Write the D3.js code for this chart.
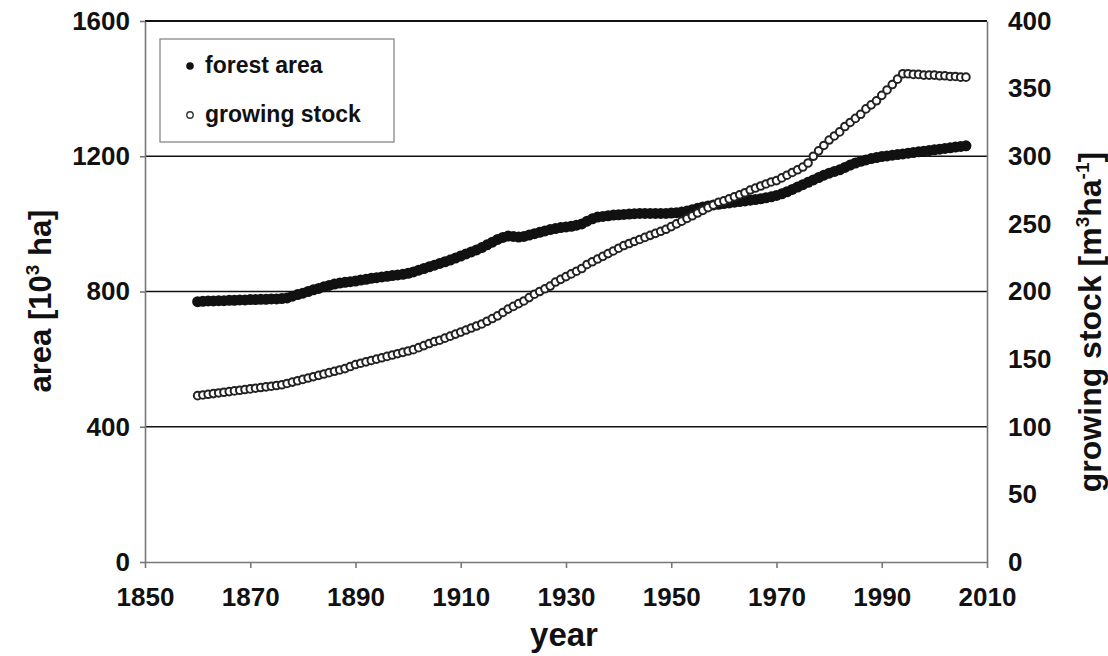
<!DOCTYPE html>
<html>
<head>
<meta charset="utf-8">
<script src="https://cdn.jsdelivr.net/npm/d3@7"></script>
<style>
  html, body { margin: 0; padding: 0; background: #fff; }
  svg { display: block; font-family: "Liberation Sans", Arial, sans-serif; font-weight: bold; }
</style>
</head>
<body>
<svg id="chart" width="1108" height="656"></svg>
<script>
// yearly values, 1860 - 2006
const years = d3.range(1860, 2007);

// forest area [10^3 ha]
const forestArea = [
  770, 771, 772, 772, 773, 773, 774, 774, 775, 775,
  776, 776, 777, 777, 778, 778, 779, 781, 786, 791,
  795, 800, 805, 809, 814, 818, 822, 825, 827, 829,
  831, 834, 836, 839, 841, 843, 845, 847, 849, 851,
  854, 858, 863, 868, 873, 878, 883, 888, 893, 899,
  905, 911, 917, 923, 930, 938, 946, 954, 960, 964,
  963, 961, 963, 967, 971, 975, 979, 983, 986, 989,
  991, 993, 996, 1000, 1008, 1015, 1020, 1022, 1024, 1026,
  1027, 1028, 1029, 1030, 1031, 1031, 1031, 1031, 1031, 1031,
  1032, 1033, 1035, 1038, 1042, 1046, 1050, 1053, 1056, 1058,
  1060, 1062, 1064, 1066, 1068, 1070, 1072, 1074, 1077, 1080,
  1084, 1089, 1095, 1102, 1109, 1116, 1123, 1130, 1137, 1144,
  1150, 1155, 1160, 1167, 1174, 1180, 1185, 1189, 1193, 1196,
  1199, 1201, 1203, 1205, 1207, 1209, 1211, 1213, 1215, 1217,
  1219, 1221, 1223, 1225, 1227, 1229, 1231
];

// growing stock [m3/ha]
const growingStock = [
  123, 123.5, 124, 124.5, 125, 125.5, 126, 126.5, 127, 127.5,
  128, 128.5, 129, 129.5, 130, 130.5, 131, 132, 133, 134,
  135, 136, 137, 138, 139, 140, 141, 142, 143, 144.5,
  146, 147, 148, 149, 150, 151, 152, 153, 154, 155,
  156, 157, 158.5, 160, 161.5, 163, 164, 165.5, 167, 168.5,
  170, 171.5, 173, 174.5, 176, 178, 180, 182, 184.5, 187,
  189, 191, 193, 195.5, 198, 200, 202, 204, 207, 209,
  211, 213, 215, 217, 220, 222, 224, 226, 228, 230,
  232, 234, 235.5, 237, 238.5, 240, 241.5, 243, 244.5, 246,
  248, 250, 252, 254, 256, 258, 260, 262, 264, 266,
  267, 268.5, 270, 271.5, 273, 275, 276.5, 278, 279.5, 281,
  282, 284, 286, 288, 290, 292, 295, 300, 304, 308,
  312, 315, 318, 322, 325, 328, 331, 335, 338, 341,
  345, 349, 353, 357, 361, 361, 360.5, 360.5, 360, 360,
  360, 359.5, 359.5, 359, 359, 358.5, 358.5
];

const xTicks = [1850, 1870, 1890, 1910, 1930, 1950, 1970, 1990, 2010];
const areaTicks = [0, 400, 800, 1200, 1600];
const stockTicks = [0, 50, 100, 150, 200, 250, 300, 350, 400];
const gridValues = [400, 800, 1200];

const plot = { left: 145, right: 987, top: 21, bottom: 562 };
const svg = d3.select("#chart");

const x = d3.scaleLinear().domain([1850, 2010]).range([plot.left, plot.right]);
const yArea = d3.scaleLinear().domain([0, 1600]).range([plot.bottom, plot.top]);
const yStock = d3.scaleLinear().domain([0, 400]).range([plot.bottom, plot.top]);

// horizontal grid lines
svg.append("g")
  .selectAll("line")
  .data(gridValues)
  .join("line")
  .attr("x1", plot.left)
  .attr("x2", plot.right)
  .attr("y1", (d) => yArea(d))
  .attr("y2", (d) => yArea(d))
  .attr("stroke", "#111")
  .attr("stroke-width", 1.6);

svg.append("line")
  .attr("x1", plot.left).attr("x2", plot.right)
  .attr("y1", yArea(1600)).attr("y2", yArea(1600))
  .attr("stroke", "#111")
  .attr("stroke-width", 2);

function styleAxis(g) {
  g.select(".domain").attr("stroke", "#777").attr("stroke-width", 1.6);
  g.selectAll(".tick line").attr("stroke", "#777").attr("stroke-width", 1.6);
  g.selectAll("text")
    .attr("fill", "#111")
    .style("font-size", "26px")
    .style("font-weight", "bold");
}

svg.append("g")
  .attr("transform", `translate(0,${plot.bottom})`)
  .call(d3.axisBottom(x).tickValues(xTicks).tickFormat(d3.format("d")).tickSize(6).tickSizeOuter(0).tickPadding(20))
  .call(styleAxis);

svg.append("g")
  .attr("transform", `translate(${plot.left},0)`)
  .call(d3.axisLeft(yArea).tickValues(areaTicks).tickFormat(d3.format("d")).tickSize(5).tickSizeOuter(0).tickPadding(10))
  .call(styleAxis);

svg.append("g")
  .attr("transform", `translate(${plot.right},0)`)
  .call(d3.axisRight(yStock).tickValues(stockTicks).tickFormat(d3.format("d")).tickSize(0).tickPadding(21))
  .call(styleAxis);

// forest area: filled dots
svg.append("g")
  .selectAll("circle")
  .data(forestArea)
  .join("circle")
  .attr("cx", (d, i) => x(years[i]))
  .attr("cy", (d) => yArea(d))
  .attr("r", 5.5)
  .attr("fill", "#111");

// growing stock: open dots
svg.append("g")
  .selectAll("circle")
  .data(growingStock)
  .join("circle")
  .attr("cx", (d, i) => x(years[i]))
  .attr("cy", (d) => yStock(d))
  .attr("r", 3.8)
  .attr("fill", "#fff")
  .attr("stroke", "#222")
  .attr("stroke-width", 2);

// legend
const legend = svg.append("g");
legend.append("rect")
  .attr("x", 160).attr("y", 39)
  .attr("width", 234).attr("height", 103)
  .attr("fill", "#fff")
  .attr("stroke", "#888")
  .attr("stroke-width", 1.3);
legend.append("circle")
  .attr("cx", 190).attr("cy", 66).attr("r", 3.8).attr("fill", "#111");
legend.append("circle")
  .attr("cx", 190).attr("cy", 115).attr("r", 3.2)
  .attr("fill", "#fff").attr("stroke", "#333").attr("stroke-width", 1.4);
legend.append("text")
  .attr("x", 205).attr("y", 73)
  .attr("fill", "#111").style("font-size", "23px")
  .text("forest area");
legend.append("text")
  .attr("x", 205).attr("y", 122)
  .attr("fill", "#111").style("font-size", "23px")
  .text("growing stock");

// axis titles
svg.append("text")
  .attr("x", (plot.left + plot.right) / 2 - 2)
  .attr("y", 646)
  .attr("text-anchor", "middle")
  .attr("fill", "#111")
  .style("font-size", "33px")
  .text("year");

const leftTitle = svg.append("text")
  .attr("transform", "translate(51,301) rotate(-90)")
  .attr("text-anchor", "middle")
  .attr("fill", "#111")
  .style("font-size", "31px");
leftTitle.append("tspan").text("area [10");
leftTitle.append("tspan").attr("dy", -12).style("font-size", "19px").text("3");
leftTitle.append("tspan").attr("dy", 12).text(" ha]");

const rightTitle = svg.append("text")
  .attr("transform", "translate(1101,322) rotate(-90)")
  .attr("text-anchor", "middle")
  .attr("fill", "#111")
  .style("font-size", "32px");
rightTitle.append("tspan").text("growing stock [m");
rightTitle.append("tspan").attr("dy", -12).style("font-size", "19px").text("3");
rightTitle.append("tspan").attr("dy", 12).text("ha");
rightTitle.append("tspan").attr("dy", -12).style("font-size", "19px").text("-1");
rightTitle.append("tspan").attr("dy", 12).text("]");
</script>
</body>
</html>
